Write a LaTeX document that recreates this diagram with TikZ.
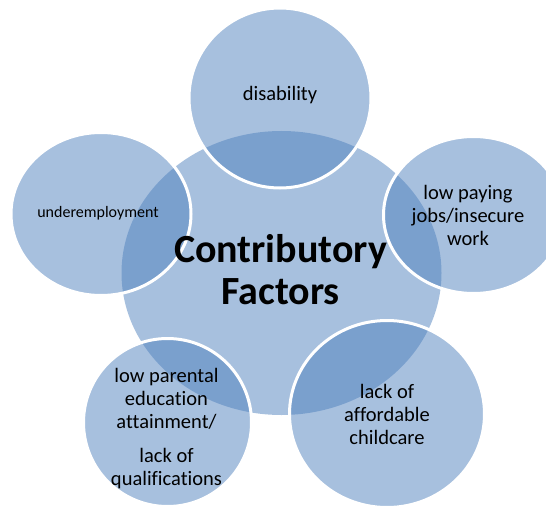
\documentclass[tikz,border=0pt]{standalone}
\usepackage{fontspec}
\setmainfont{Carlito}[Ligatures={NoCommon}]
\usetikzlibrary{%
	shapes.geometric%
}
\definecolor{accent-blue}{RGB}{79,129,189}

\begin{document}
\begin{tikzpicture}[x=1pt,y=-1pt,
	hub/.style={ellipse,inner sep=0pt,fill=accent-blue,fill opacity=0.5},
	factor/.style={ellipse,inner sep=0pt,draw=white,line width=3pt,fill=accent-blue,fill opacity=0.5},
	factortext/.style={align=center,inner sep=0pt,font=\fontsize{20.5}{23}\selectfont}
	]
	\clip (0,0) rectangle (546,508);

	% Centre
	\node[hub,minimum width=320,minimum height=284] (hub) at (281.5,273) {};

	% Outer circles, white rim over the centre
	\node[factor,minimum width=182,minimum height=180] (disab) at (280,98) {};
	\node[factor,minimum width=180,minimum height=163] (under) at (101,214) {};
	\node[factor,minimum width=180,minimum height=157] (pay) at (473.5,215) {};
	\node[factor,minimum width=195,minimum height=187] (afford) at (387,414) {};
	\node[factor,minimum width=168,minimum height=168] (parent) at (167.5,422.5) {};

	% Texts
	\node[align=center,inner sep=0pt,font=\fontsize{40}{42}\selectfont\bfseries] (hubtext) at (280.5,270) {Contributory\\Factors};
	\node[factortext,anchor=base] (disabtext) at (280,101) {disability};
	\node[factortext,anchor=base,font=\fontsize{16}{19}\selectfont] (undertext) at (98,217) {underemployment};
	\node[factortext] (paytext) at (468,215.3) {low paying\\jobs/insecure\\work};
	\node[factortext] (affordtext) at (387,414.3) {lack of\\affordable\\childcare};
	\node[factortext] (parenttext) at (166.5,428.9) {low parental\\education\\attainment/\\[11pt]lack of\\qualifications};
\end{tikzpicture}
\end{document}
